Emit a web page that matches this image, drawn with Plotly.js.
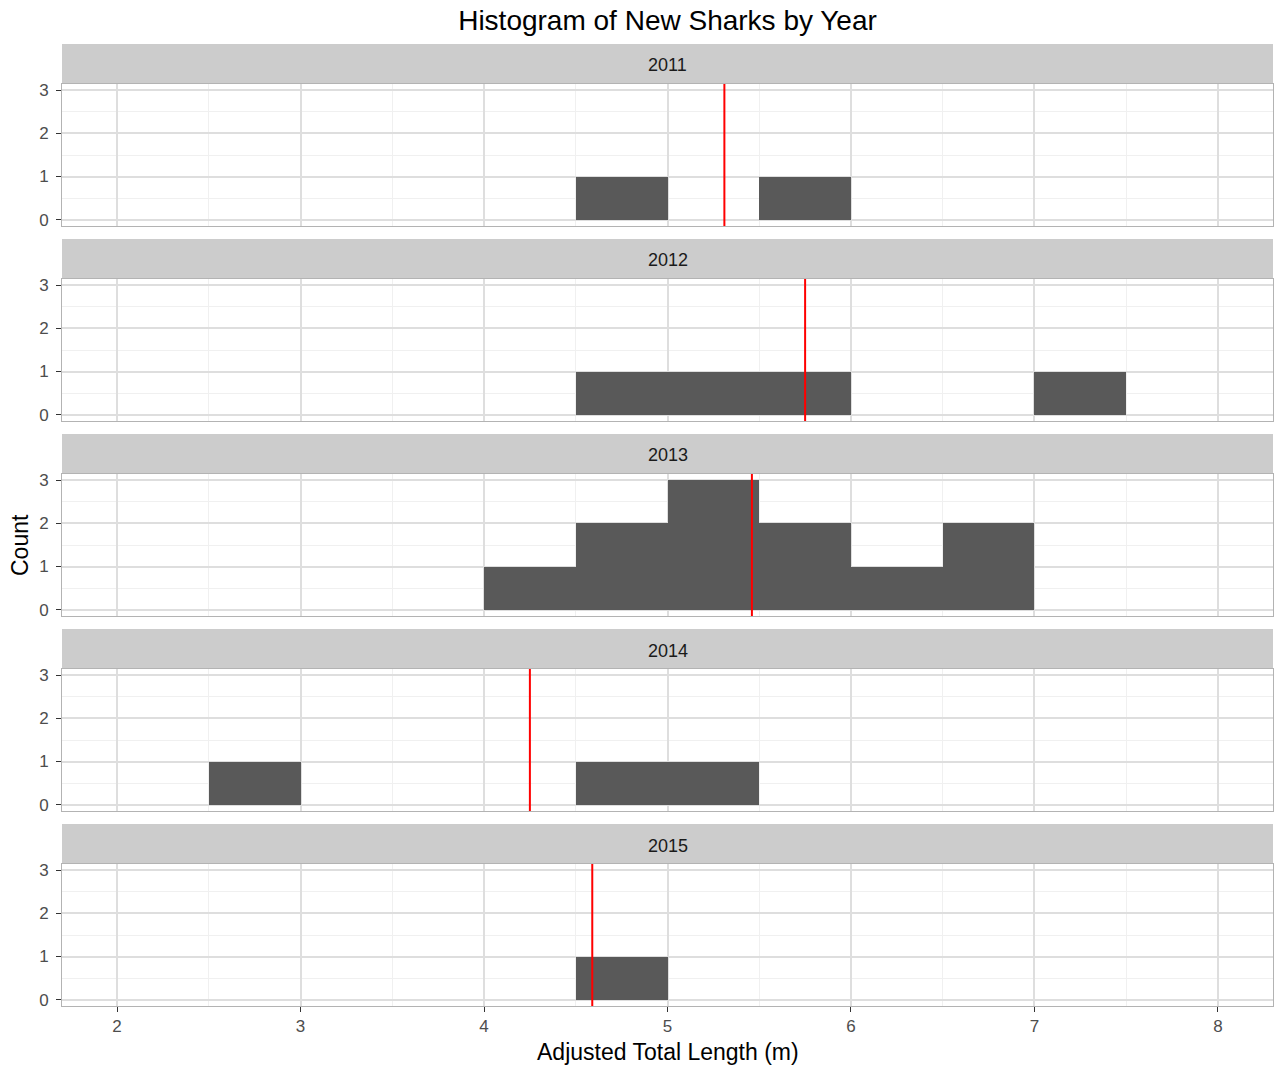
<!DOCTYPE html>
<html>
<head>
<meta charset="utf-8">
<script src="https://cdn.plot.ly/plotly-3.0.1.min.js"></script>
<style>html,body{margin:0;padding:0;background:#fff;}#chart{width:1277px;height:1069px;}</style>
</head>
<body>
<div id="chart"></div>
<script>
// ---- data ----
const years = ['2011', '2012', '2013', '2014', '2015'];
const binCenters = [2.75, 3.25, 3.75, 4.25, 4.75, 5.25, 5.75, 6.25, 6.75, 7.25];
const counts2011 = [0, 0, 0, 0, 1, 0, 1, 0, 0, 0];
const counts2012 = [0, 0, 0, 0, 1, 1, 1, 0, 0, 1];
const counts2013 = [0, 0, 0, 1, 2, 3, 2, 1, 2, 0];
const counts2014 = [1, 0, 0, 0, 1, 1, 0, 0, 0, 0];
const counts2015 = [0, 0, 0, 0, 1, 0, 0, 0, 0, 0];
const meanLengths = [5.31, 5.75, 5.46, 4.25, 4.59];
const xTicks = [2, 3, 4, 5, 6, 7, 8];
const yTicks = [0, 1, 2, 3];
const binWidth = 0.5;

const allCounts = [counts2011, counts2012, counts2013, counts2014, counts2015];

// ---- layout geometry ----
const W = 1277, H = 1069;
const mL = 62, mR = 4, mT = 84, mB = 63;
const plotH = H - mT - mB;      // 922
const panelPx = 142, gapPx = 53, stripPx = 39;

const traces = [];
const layout = {
  width: W, height: H,
  margin: {l: mL, r: mR, t: mT, b: mB},
  paper_bgcolor: '#ffffff',
  plot_bgcolor: '#ffffff',
  showlegend: false,
  bargap: 0,
  font: {family: 'Liberation Sans, Arial, sans-serif', color: '#4D4D4D'},
  title: {
    text: 'Histogram of New Sharks by Year',
    font: {size: 28, color: '#000000', family: 'Liberation Sans, Arial, sans-serif'},
    xref: 'paper', x: 0.5, xanchor: 'center',
    yref: 'container', y: 1 - 20 / H, yanchor: 'middle'
  },
  shapes: [],
  annotations: []
};

years.forEach((yr, i) => {
  const k = i + 1;
  const xa = k === 1 ? 'x' : 'x' + k;
  const ya = k === 1 ? 'y' : 'y' + k;
  const topPx = i * (panelPx + gapPx);               // from top of plot area
  const d1 = 1 - topPx / plotH;
  const d0 = 1 - (topPx + panelPx) / plotH;
  const isBottom = (k === years.length);

  traces.push({
    type: 'bar',
    x: binCenters,
    y: allCounts[i],
    width: binWidth,
    xaxis: xa, yaxis: ya,
    marker: {color: '#595959', line: {width: 0}},
    hoverinfo: 'x+y'
  });

  layout['xaxis' + (k === 1 ? '' : k)] = {
    domain: [0, 1],
    anchor: ya,
    range: [1.7, 8.3],
    matches: k === 1 ? undefined : 'x',
    tickvals: xTicks,
    ticktext: xTicks.map(String),
    showticklabels: isBottom,
    ticks: isBottom ? 'outside' : '',
    ticklen: 5, tickwidth: 1, tickcolor: '#333333',
    tickfont: {size: 17, color: '#4D4D4D'},
    showgrid: true, gridcolor: '#DEDEDE', gridwidth: 2,
    minor: {dtick: 0.5, tick0: 0, showgrid: true, gridcolor: '#F0F0F0', gridwidth: 1},
    zeroline: false,
    showline: true, mirror: true, linecolor: '#B3B3B3', linewidth: 1
  };
  layout['yaxis' + (k === 1 ? '' : k)] = {
    domain: [d0, d1],
    anchor: xa,
    range: [-0.15, 3.15],
    tickvals: yTicks,
    ticktext: yTicks.map(String),
    ticks: 'outside',
    ticklen: 5, tickwidth: 1, tickcolor: '#333333',
    ticklabelstandoff: 4,
    tickfont: {size: 17, color: '#4D4D4D'},
    showgrid: true, gridcolor: '#DEDEDE', gridwidth: 2,
    minor: {dtick: 0.5, tick0: 0, showgrid: true, gridcolor: '#F0F0F0', gridwidth: 1},
    zeroline: false,
    showline: true, mirror: true, linecolor: '#B3B3B3', linewidth: 1
  };

  // strip
  const s0 = d1 + 1 / plotH;
  const s1 = d1 + (stripPx + 1) / plotH;
  layout.shapes.push({
    type: 'rect', xref: 'paper', yref: 'paper',
    x0: 0, x1: 1, y0: s0, y1: s1,
    fillcolor: '#CCCCCC', line: {width: 0}, layer: 'below'
  });
  layout.annotations.push({
    text: yr, xref: 'paper', yref: 'paper',
    x: 0.5, y: (s0 + s1) / 2 - 2 / plotH, xanchor: 'center', yanchor: 'middle',
    showarrow: false, font: {size: 18, color: '#1A1A1A'}
  });

  // mean line
  layout.shapes.push({
    type: 'line', xref: xa, yref: ya + ' domain',
    x0: meanLengths[i], x1: meanLengths[i], y0: 0, y1: 1,
    line: {color: '#FF0000', width: 2}
  });
});

// axis titles
layout.annotations.push({
  text: 'Adjusted Total Length (m)', xref: 'paper', yref: 'paper',
  x: 0.5, y: -(1052 - (H - mB)) / plotH, xanchor: 'center', yanchor: 'middle',
  showarrow: false, font: {size: 23, color: '#000000'}
});
layout.annotations.push({
  text: 'Count', xref: 'paper', yref: 'paper', textangle: -90,
  x: (20 - mL) / (W - mL - mR), y: 1 - (545 - mT) / plotH, xanchor: 'center', yanchor: 'middle',
  showarrow: false, font: {size: 23, color: '#000000'}
});

Plotly.newPlot('chart', traces, layout, {displayModeBar: false, staticPlot: true});
</script>
</body>
</html>
